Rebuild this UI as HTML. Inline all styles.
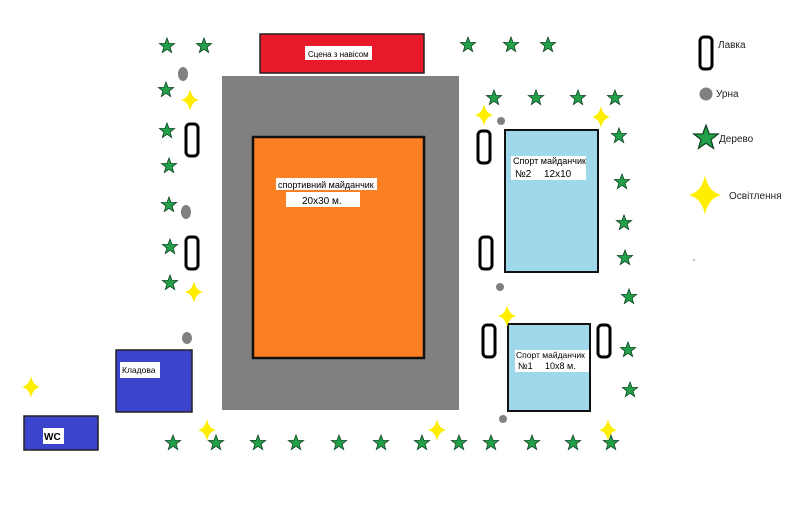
<!DOCTYPE html>
<html><head><meta charset="utf-8"><style>
body{margin:0;background:#fff}
svg{display:block;font-family:"Liberation Sans",sans-serif}
</style></head><body>
<svg width="800" height="507" viewBox="0 0 800 507" xmlns="http://www.w3.org/2000/svg">
<defs>
<polygon id="st" points="0,-8 2,-2.6 7.6,-2.5 3.1,1 4.7,6.5 0,3.3 -4.7,6.5 -3.1,1 -7.6,-2.5 -2,-2.6" fill="#22a04a" stroke="#114422" stroke-width="0.8"/>
<path id="sp" d="M0,-11 Q1.8,-1.8 9,0 Q1.8,1.8 0,11 Q-1.8,1.8 -9,0 Q-1.8,-1.8 0,-11Z" fill="#ffee00"/>
<rect id="bn" x="-6" y="-16" width="12" height="32" rx="4" fill="none" stroke="#000" stroke-width="3"/>
</defs>
<rect width="800" height="507" fill="#fff"/>
<rect x="260" y="34" width="164" height="39" fill="#e8192a" stroke="#222" stroke-width="1.5"/>
<rect x="305" y="46" width="67" height="14" fill="#fff"/>
<text x="308" y="57" font-size="8">Сцена з навісом</text>
<rect x="222" y="76" width="237" height="334" fill="#808080"/>
<rect x="253" y="137" width="171" height="221" fill="#fd7f24" stroke="#111" stroke-width="2.5"/>
<rect x="276" y="178" width="101" height="12" fill="#fff"/>
<text x="278" y="188" font-size="9">спортивний майданчик</text>
<rect x="286" y="192" width="74" height="15" fill="#fff"/>
<text x="302" y="204" font-size="10">20x30 м.</text>
<rect x="505" y="130" width="93" height="142" fill="#9fd8ea" stroke="#111" stroke-width="2"/>
<rect x="511" y="156" width="75" height="24" fill="#fff"/>
<text x="513" y="164" font-size="9">Спорт майданчик</text>
<text x="515" y="177" font-size="10">№2</text>
<text x="544" y="177" font-size="10">12x10</text>
<rect x="508" y="324" width="82" height="87" fill="#9fd8ea" stroke="#111" stroke-width="2"/>
<rect x="515" y="350" width="74" height="22" fill="#fff"/>
<text x="516" y="358" font-size="8.5">Спорт майданчик</text>
<text x="518" y="369" font-size="9">№1</text>
<text x="545" y="369" font-size="9">10x8 м.</text>
<rect x="116" y="350" width="76" height="62" fill="#3c43cc" stroke="#222" stroke-width="1.5"/>
<rect x="120" y="362" width="40" height="16" fill="#fff"/>
<text x="122" y="373" font-size="8.5">Кладова</text>
<rect x="24" y="416" width="74" height="34" fill="#3c43cc" stroke="#222" stroke-width="1.5"/>
<rect x="43" y="428" width="21" height="16" fill="#fff"/>
<text x="44" y="440" font-size="10" font-weight="bold">WC</text>
<g>
<use href="#bn" x="192" y="140"/><use href="#bn" x="192" y="253"/>
<use href="#bn" x="484" y="147"/><use href="#bn" x="486" y="253"/>
<use href="#bn" x="489" y="341"/><use href="#bn" x="604" y="341"/>
<use href="#bn" x="706" y="53"/>
</g>
<g fill="#808080">
<ellipse cx="183" cy="74" rx="5" ry="7"/><ellipse cx="186" cy="212" rx="5" ry="7"/>
<ellipse cx="187" cy="338" rx="5" ry="6"/><circle cx="501" cy="121" r="4"/>
<circle cx="500" cy="287" r="4"/><circle cx="503" cy="419" r="4"/>
<circle cx="706" cy="94" r="6.5"/>
</g>
<g>
<use href="#st" x="167" y="46"/><use href="#st" x="204" y="46"/><use href="#st" x="468" y="45"/><use href="#st" x="511" y="45"/><use href="#st" x="548" y="45"/>
<use href="#st" x="166" y="90"/><use href="#st" x="167" y="131"/><use href="#st" x="169" y="166"/><use href="#st" x="169" y="205"/><use href="#st" x="170" y="247"/><use href="#st" x="170" y="283"/>
<use href="#st" x="494" y="98"/><use href="#st" x="536" y="98"/><use href="#st" x="578" y="98"/><use href="#st" x="615" y="98"/>
<use href="#st" x="619" y="136"/><use href="#st" x="622" y="182"/><use href="#st" x="624" y="223"/><use href="#st" x="625" y="258"/><use href="#st" x="629" y="297"/><use href="#st" x="628" y="350"/><use href="#st" x="630" y="390"/>
<use href="#st" x="173" y="443"/><use href="#st" x="216" y="443"/><use href="#st" x="258" y="443"/><use href="#st" x="296" y="443"/><use href="#st" x="339" y="443"/><use href="#st" x="381" y="443"/><use href="#st" x="422" y="443"/><use href="#st" x="459" y="443"/><use href="#st" x="491" y="443"/><use href="#st" x="532" y="443"/><use href="#st" x="573" y="443"/><use href="#st" x="611" y="443"/>
<use href="#st" x="0" y="0" transform="translate(706 138) scale(1.6)"/>
</g>
<g>
<use href="#sp" x="190" y="100"/><use href="#sp" x="194" y="292"/><use href="#sp" x="31" y="387"/>
<use href="#sp" x="207" y="430"/><use href="#sp" x="437" y="430"/><use href="#sp" x="608" y="430"/>
<use href="#sp" x="484" y="115"/><use href="#sp" x="601" y="117"/><use href="#sp" x="507" y="316"/>
<use href="#sp" x="0" y="0" transform="translate(705 195) scale(1.8)"/>
</g>
<g font-size="10" fill="#222">
<text x="718" y="48">Лавка</text>
<text x="716" y="97">Урна</text>
<text x="719" y="142">Дерево</text>
<text x="729" y="199">Освітлення</text>
</g>
<circle cx="694" cy="260" r="0.8" fill="#666"/>
</svg>
</body></html>
